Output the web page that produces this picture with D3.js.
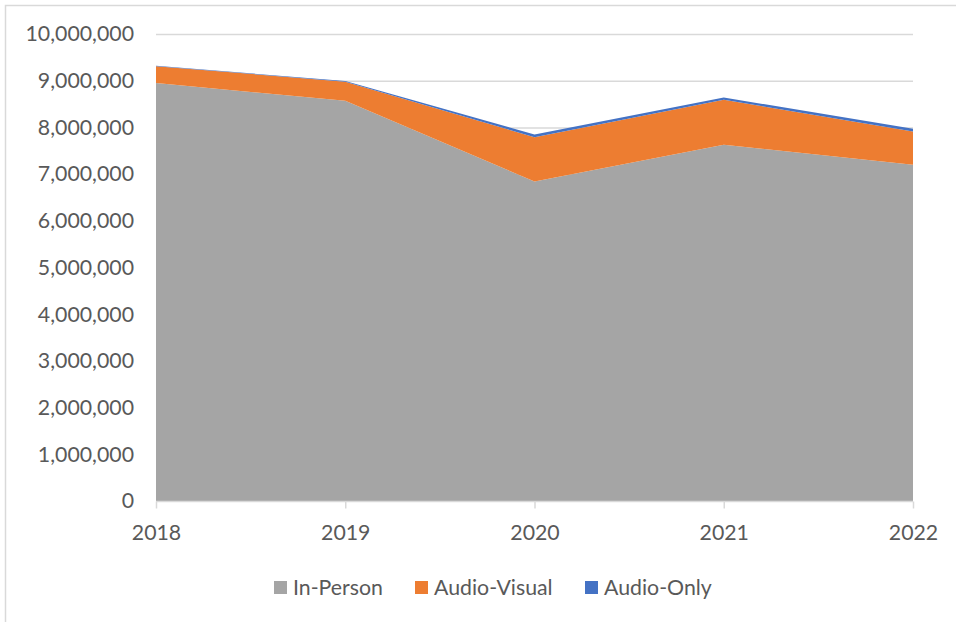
<!DOCTYPE html>
<html>
<head>
<meta charset="utf-8">
<script src="https://cdn.jsdelivr.net/npm/d3@7"></script>
<style>
  body { margin: 0; background: #fff; }
  svg { display: block; font-family: Lato, "Open Sans", sans-serif; }
</style>
</head>
<body>
<svg id="chart" width="956" height="622"></svg>
<script>
// years on the x axis
var years = [2018, 2019, 2020, 2021, 2022];
// visits by delivery mode
var inPerson    = [8950000, 8570000, 6840000, 7630000, 7200000];
var audioVisual = [ 360000,  410000,  950000,  960000,  710000];
var audioOnly   = [   8000,   15000,   60000,   50000,   60000];
var seriesNames = ["In-Person", "Audio-Visual", "Audio-Only"];
var seriesColors = ["#a5a5a5", "#ed7d31", "#4472c4"];
var yTicks = [0, 1000000, 2000000, 3000000, 4000000, 5000000, 6000000, 7000000, 8000000, 9000000, 10000000];

var svg = d3.select("#chart");
var fontSize = "21.3px";

// outer frame of the chart box (only left and top edges show)
svg.append("rect")
    .attr("x", 5.5).attr("y", 5.5)
    .attr("width", 1000).attr("height", 700)
    .attr("fill", "none")
    .attr("stroke", "#d9d9d9")
    .attr("stroke-width", 1.5);

var x = d3.scalePoint().domain(years).range([156, 913]);
var y = d3.scaleLinear().domain([0, 10000000]).range([501, 34]);

// gridlines
svg.append("g").selectAll("line")
    .data(yTicks.slice(1))
    .enter().append("line")
    .attr("x1", 156).attr("x2", 913)
    .attr("y1", function(d) { return y(d) + 0.5; })
    .attr("y2", function(d) { return y(d) + 0.5; })
    .attr("stroke", "#d9d9d9")
    .attr("stroke-width", 1.5);

// stacked areas
var rows = years.map(function(yr, i) {
    return { year: yr, "In-Person": inPerson[i], "Audio-Visual": audioVisual[i], "Audio-Only": audioOnly[i] };
});
var stack = d3.stack().keys(seriesNames);
var layers = stack(rows);

var area = d3.area()
    .x(function(d) { return x(d.data.year); })
    .y0(function(d) { return y(d[0]); })
    .y1(function(d) { return y(d[1]); });

svg.append("g").selectAll("path")
    .data(layers)
    .enter().append("path")
    .attr("d", area)
    .attr("fill", function(d, i) { return seriesColors[i]; });

// y axis labels
var yAxis = d3.axisLeft(y)
    .tickValues(yTicks)
    .tickSize(0)
    .tickPadding(22)
    .tickFormat(d3.format(","));
var gy = svg.append("g").attr("transform", "translate(156,0)").call(yAxis);
gy.select(".domain").remove();
gy.selectAll("text")
    .attr("fill", "#595959")
    .style("font-size", fontSize)
    .style("font-family", "Lato, 'Open Sans', sans-serif");

// x axis
var xAxis = d3.axisBottom(x).tickSize(7).tickPadding(16);
var gx = svg.append("g").attr("transform", "translate(0,501.5)").call(xAxis);
gx.select(".domain").attr("stroke", "#d9d9d9").attr("stroke-width", 1.5)
    .attr("d", "M156,0H913");
gx.selectAll(".tick line").attr("stroke", "#d9d9d9").attr("stroke-width", 1.5);
gx.selectAll("text")
    .attr("fill", "#595959")
    .style("font-size", fontSize)
    .style("font-family", "Lato, 'Open Sans', sans-serif");

// legend
var legendX = [274, 415, 585];
var legend = svg.append("g").selectAll("g")
    .data(seriesNames)
    .enter().append("g")
    .attr("transform", function(d, i) { return "translate(" + legendX[i] + ",581)"; });
legend.append("rect")
    .attr("width", 13).attr("height", 13)
    .attr("fill", function(d, i) { return seriesColors[i]; });
legend.append("text")
    .attr("x", 19).attr("y", 13.5)
    .attr("fill", "#595959")
    .style("font-size", fontSize)
    .text(function(d) { return d; });
</script>
</body>
</html>
